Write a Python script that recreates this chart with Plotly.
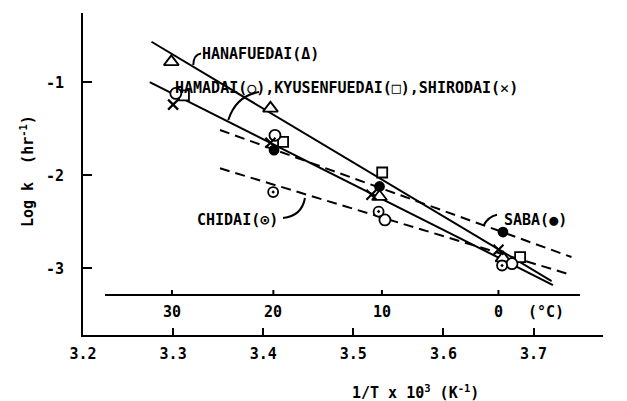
import plotly.graph_objects as go

# ---------------- data ----------------
hana_x = [3.298, 3.408, 3.529, 3.666]
hana_y = [-0.78, -1.28, -2.23, -2.89]

hama_x = [3.303, 3.413, 3.535, 3.676]
hama_y = [-1.12, -1.57, -2.48, -2.95]

kyu_x = [3.312, 3.422, 3.532, 3.685]
kyu_y = [-1.14, -1.64, -1.97, -2.88]

shiro_x = [3.300, 3.408, 3.520, 3.661]
shiro_y = [-1.24, -1.65, -2.21, -2.80]

chi_x = [3.411, 3.528, 3.665]
chi_y = [-2.18, -2.39, -2.97]

saba_x = [3.412, 3.529, 3.666]
saba_y = [-1.73, -2.12, -2.61]

# regression lines (end points)
hana_line_x = [3.276, 3.720]
hana_line_y = [-0.564, -3.137]
hama_line_x = [3.274, 3.7215]
hama_line_y = [-0.999, -3.180]
saba_line_x = [3.352, 3.742]
saba_line_y = [-1.513, -2.879]
chi_line_x = [3.352, 3.742]
chi_line_y = [-1.925, -3.072]

x_ticks = [3.2, 3.3, 3.4, 3.5, 3.6, 3.7]
x_ticktext = ["3.2", "3.3", "3.4", "3.5", "3.6", "3.7"]
y_ticks = [-1, -2, -3]
y_ticktext = ["-1", "-2", "-3"]
celsius = [30, 20, 10, 0]

FONT = "DejaVu Sans Mono"
BLK = "black"

fig = go.Figure()

def line(xs, ys, dash=None):
    fig.add_trace(go.Scatter(x=xs, y=ys, mode="lines",
                             line=dict(color=BLK, width=2, dash=dash),
                             showlegend=False, hoverinfo="skip"))

line(hana_line_x, hana_line_y)
line(hama_line_x, hama_line_y)
line(saba_line_x, saba_line_y, "10px,6px")
line(chi_line_x, chi_line_y, "10px,6px")

def pts(xs, ys, symbol, size, fill="white", lw=1.8):
    fig.add_trace(go.Scatter(x=xs, y=ys, mode="markers",
                             marker=dict(symbol=symbol, size=size, color=fill,
                                         line=dict(color=BLK, width=lw)),
                             showlegend=False))

pts(hana_x, hana_y, "triangle-up", 13)
pts(kyu_x, kyu_y, "square", 10)
pts(hama_x, hama_y, "circle", 11)
pts(chi_x, chi_y, "circle-dot", 10)
pts(shiro_x, shiro_y, "x-thin", 10, fill=BLK, lw=2.2)
pts(saba_x, saba_y, "circle", 9, fill=BLK)

bold15 = dict(family=FONT, size=15, color=BLK, weight="bold")

# ---------------- secondary (°C) axis ----------------
c_axis_y = -3.287
c_tick_top = -3.233
c_label_y = -3.47
shapes = [dict(type="line", xref="x", yref="y", x0=3.2244, x1=3.7515,
               y0=c_axis_y, y1=c_axis_y, line=dict(color=BLK, width=2))]
annotations = []
for t in celsius:
    xv = 1000.0 / (t + 273.15)
    shapes.append(dict(type="line", xref="x", yref="y", x0=xv, x1=xv,
                       y0=c_axis_y, y1=c_tick_top, line=dict(color=BLK, width=2)))
    annotations.append(dict(x=xv, y=c_label_y, xref="x", yref="y", text=str(t),
                            showarrow=False, font=bold15))
annotations.append(dict(x=3.7138, y=c_label_y, xref="x", yref="y", text="(°C)",
                        showarrow=False, font=bold15))

# ---------------- labels and leaders ----------------
annotations += [
    dict(x=3.3293, y=-0.70, xref="x", yref="y", xanchor="left", text="HANAFUEDAI(Δ)",
         showarrow=False, font=bold15),
    dict(x=3.3, y=-1.06, xref="x", yref="y", xanchor="left",
         text="HAMADAI(○),KYUSENFUEDAI(□),SHIRODAI(✕)", showarrow=False, font=bold15),
    dict(x=3.3240, y=-2.48, xref="x", yref="y", xanchor="left", text="CHIDAI(⊙)",
         showarrow=False, font=bold15),
    dict(x=3.6645, y=-2.48, xref="x", yref="y", xanchor="left", text="SABA(●)",
         showarrow=False, font=bold15),
]
leaders = [
    "M 3.3224,-0.814 Q 3.3226,-0.700 3.3310,-0.690",
    "M 3.3612,-1.4056 Q 3.3698,-1.1475 3.3953,-1.1045",
    "M 3.4463,-2.2442 Q 3.4426,-2.4399 3.4219,-2.4593",
    "M 3.6442,-2.5419 Q 3.6494,-2.4452 3.6594,-2.4237",
]
for p in leaders:
    shapes.append(dict(type="path", path=p, xref="x", yref="y",
                       line=dict(color=BLK, width=2)))

# axis titles (annotations so margins stay fixed)
annotations.append(dict(x=0.640, y=-0.177, xref="paper", yref="paper", xanchor="center",
                        yanchor="middle", text="1/T x 10<sup>3</sup> (K<sup>-1</sup>)",
                        showarrow=False, font=bold15))
annotations.append(dict(x=-0.1077, y=0.509, xref="paper", yref="paper", xanchor="center",
                        yanchor="middle", textangle=-90, text="Log k  (hr<sup>-1</sup>)",
                        showarrow=False, font=bold15))

# page body has an 8px margin, so the figure is laid out 8px up/left of the target
fig.update_layout(
    width=627, height=401,
    margin=dict(l=75, r=32, t=5, b=74, autoexpand=False),
    paper_bgcolor="white", plot_bgcolor="white",
    shapes=shapes, annotations=annotations,
    font=bold15,
    xaxis=dict(range=[3.2, 3.777], showline=True, linecolor=BLK, linewidth=2,
               ticks="inside", ticklen=7, tickwidth=2, tickcolor=BLK,
               tickvals=x_ticks, ticktext=x_ticktext, showgrid=False, zeroline=False,
               ticklabelstandoff=4, automargin=False),
    yaxis=dict(range=[-3.717, -0.255], showline=True, linecolor=BLK, linewidth=2,
               ticks="inside", ticklen=9, tickwidth=2, tickcolor=BLK,
               tickvals=y_ticks, ticktext=y_ticktext, showgrid=False, zeroline=False,
               ticklabelstandoff=14, automargin=False),
)

fig.write_html("out.html")
